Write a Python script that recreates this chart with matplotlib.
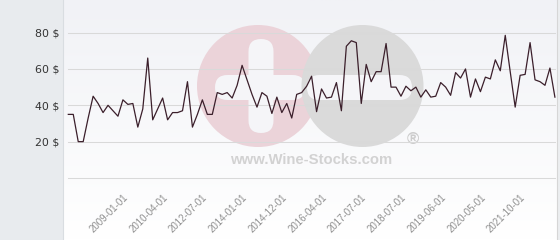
import matplotlib
matplotlib.use("Agg")
import matplotlib.pyplot as plt
import numpy as np
from matplotlib.patches import Rectangle, Circle, FancyBboxPatch
from matplotlib.colors import LinearSegmentedColormap

# price per bottle, one value per listed date
prices = [35, 35, 20, 20, 33, 45, 41, 36, 40, 37,
          34, 43, 40.5, 41, 28, 38, 66, 32, 38, 44,
          32, 36, 36, 37, 53, 28, 35, 43, 35, 35,
          47, 46, 47, 44, 51, 62, 54, 46, 39, 47,
          45, 35.5, 44.5, 36, 41, 33, 46, 47, 50.5, 56,
          36.5, 49, 44, 44.5, 52.5, 37, 72.5, 75.5, 74.5, 41,
          62.5, 53, 58.5, 58.5, 74, 50, 50, 45, 50.5, 48,
          50, 44.5, 48.5, 44.5, 45, 52.5, 50, 45.5, 58, 55,
          60, 44.5, 54.5, 47.5, 55.5, 54.5, 65, 59, 78.5, 58.5,
          39, 56.5, 57, 74.5, 54, 53, 51, 60.5, 44.5]

tick_labels = ["2009-01-01", "2010-04-01", "2012-07-01", "2014-01-01",
               "2014-12-01", "2016-04-01", "2017-07-01", "2018-07-01",
               "2019-06-01", "2020-05-01", "2021-10-01"]
y_ticks = [0, 20, 40, 60, 80]

W, H = 560, 240
fig = plt.figure(figsize=(W / 100, H / 100), dpi=100)

# background / watermark layer in pixel coordinates
bg = fig.add_axes([0, 0, 1, 1])
bg.set_xlim(0, W)
bg.set_ylim(H, 0)
bg.axis("off")

bg.add_patch(Rectangle((0, 0), 62.5, H, color="#e8ebee", lw=0))
grad = LinearSegmentedColormap.from_list("g", ["#f1f2f6", "#ffffff"])
bg.imshow(np.linspace(0, 1, 100).reshape(-1, 1), cmap=grad, aspect="auto",
          extent=(62.5, 556.5, H, 0), zorder=0)
bg.axvline(62.5, color="#d9dde1", lw=0.8)
bg.add_patch(Rectangle((556.5, 0), 4, H, color="#eceef0", lw=0))
bg.axvline(556.5, color="#d6d6d6", lw=0.8)

bar_col = "#f5f5f8"
bg.add_patch(Circle((258, 86), 61, fc="#ebd3d9", lw=0, zorder=2))
bg.add_patch(FancyBboxPatch((248.5, 39), 25, 94, boxstyle="round,pad=0,rounding_size=12.5",
                            fc=bar_col, lw=0, zorder=3))
bg.add_patch(FancyBboxPatch((215, 75), 90, 25, boxstyle="round,pad=0,rounding_size=12.5",
                            fc=bar_col, lw=0, zorder=3))
bg.add_patch(Circle((362.5, 86), 61, fc="#dadada", lw=0, zorder=4))
bg.add_patch(FancyBboxPatch((307, 75), 105, 25, boxstyle="round,pad=0,rounding_size=12.5",
                            fc=bar_col, lw=0, zorder=5))
bg.text(311.5, 160.5, "www.Wine-Stocks.com", ha="center", va="center",
        fontsize=10.7, fontweight="bold", family="Liberation Sans", color="#d2d2d2", zorder=6)
bg.text(413, 139, "\u00ae", ha="center", va="center", fontsize=12,
        fontweight="bold", family="Liberation Sans", color="#cccccc", zorder=6)

# main chart
ax = fig.add_axes([68.3 / W, (H - 178) / H, (554.9 - 68.3) / W, 178 / H])
ax.patch.set_visible(False)
ax.plot(range(len(prices)), prices, color="#3b1f2b", lw=0.9, clip_on=False)
ax.set_xlim(0, len(prices) - 1)
ax.set_ylim(0, 178 / 1.8175)

ax.set_yticks(y_ticks, [""] + [f"{v} $" for v in y_ticks[1:]])
ax.grid(axis="y", color="#d9d9d9", lw=0.75)
for gl in ax.get_ygridlines():
    gl.set_clip_on(False)
ax.set_axisbelow(True)
for s in ax.spines.values():
    s.set_visible(False)
ax.tick_params(axis="y", length=0, pad=6.5, labelsize=7.9, labelcolor="#333333")

ax.set_xticks(list(range(11, len(prices), 8)), tick_labels)
ax.tick_params(axis="x", length=0, pad=10.5)
for lbl in ax.get_xticklabels():
    lbl.set_rotation(45)
    lbl.set_ha("right")
    lbl.set_va("top")
    lbl.set_rotation_mode("anchor")
    lbl.set_fontsize(7)
    lbl.set_family("Liberation Sans")
    lbl.set_color("#8f8f8f")

fig.savefig("out.png", dpi=100)
